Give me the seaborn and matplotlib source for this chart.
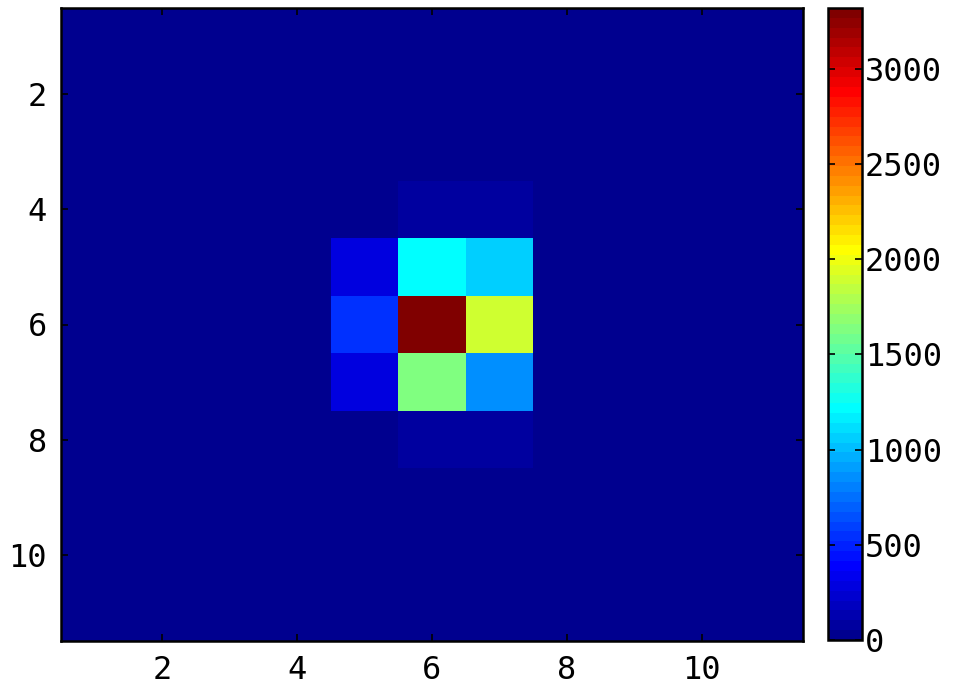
#!/usr/bin/env python

import numpy as np
import pandas as pd
import matplotlib
matplotlib.use("Agg")
import matplotlib.pyplot as plt
from matplotlib.colors import ListedColormap
import seaborn as sns

# 11x11 grid, rows/cols numbered 1..11; everything outside the centre block is 0
rows = list(range(1, 12))
cols = list(range(1, 12))

# centre block values (row, col, value)
block_rows = [4, 4, 5, 5, 5, 6, 6, 6, 7, 7, 7, 8, 8]
block_cols = [6, 7, 5, 6, 7, 5, 6, 7, 5, 6, 7, 6, 7]
block_vals = [70, 70, 265, 1200, 1080, 530, 3320, 1910, 265, 1630, 830, 60, 60]

axis_ticks = [2, 4, 6, 8, 10]
cbar_ticks = [0, 500, 1000, 1500, 2000, 2500, 3000]


def matlab_jet(n=64):
    x = np.arange(1, n + 1) / n
    r = np.clip(1.5 - np.abs(4 * x - 3), 0, 1)
    g = np.clip(1.5 - np.abs(4 * x - 2), 0, 1)
    b = np.clip(1.5 - np.abs(4 * x - 1), 0, 1)
    return ListedColormap(np.column_stack([r, g, b]))


def main():
    plt.rcParams["font.family"] = ["DejaVu Sans Mono"]
    plt.rcParams["font.size"] = 23

    grid = pd.DataFrame(0.0, index=rows, columns=cols)
    for r, c, v in zip(block_rows, block_cols, block_vals):
        grid.loc[r, c] = v

    fig = plt.figure(figsize=(9.54, 6.99), dpi=100)
    ax = fig.add_axes([61 / 954, 58 / 699, 742 / 954, 633 / 699])
    cax = fig.add_axes([828 / 954, 59 / 699, 34 / 954, 632 / 699])

    sns.heatmap(grid, ax=ax, cbar_ax=cax, cmap=matlab_jet(), vmin=0, vmax=max(block_vals),
                square=False, xticklabels=False, yticklabels=False)

    ax.set_xticks([t - 0.5 for t in axis_ticks], [str(t) for t in axis_ticks])
    ax.set_yticks([t - 0.5 for t in axis_ticks], [str(t) for t in axis_ticks], rotation=0)
    ax.set_xlabel("")
    ax.set_ylabel("")
    ax.tick_params(direction="in", length=5, width=1.2, top=True, right=True,
                   labelsize=23, pad=10)
    for s in ax.spines.values():
        s.set_visible(True)
        s.set_linewidth(1.8)
        s.set_color("black")

    cbar = ax.collections[0].colorbar
    cbar.set_ticks(cbar_ticks)
    cbar.outline.set_visible(True)
    cbar.outline.set_linewidth(1.8)
    cbar.outline.set_edgecolor("black")
    cax.tick_params(direction="in", length=5, width=1.2, left=True, right=True,
                    labelsize=23, pad=2)

    fig.savefig("out.png", dpi=100)
    plt.close(fig)


if __name__ == "__main__":
    main()
